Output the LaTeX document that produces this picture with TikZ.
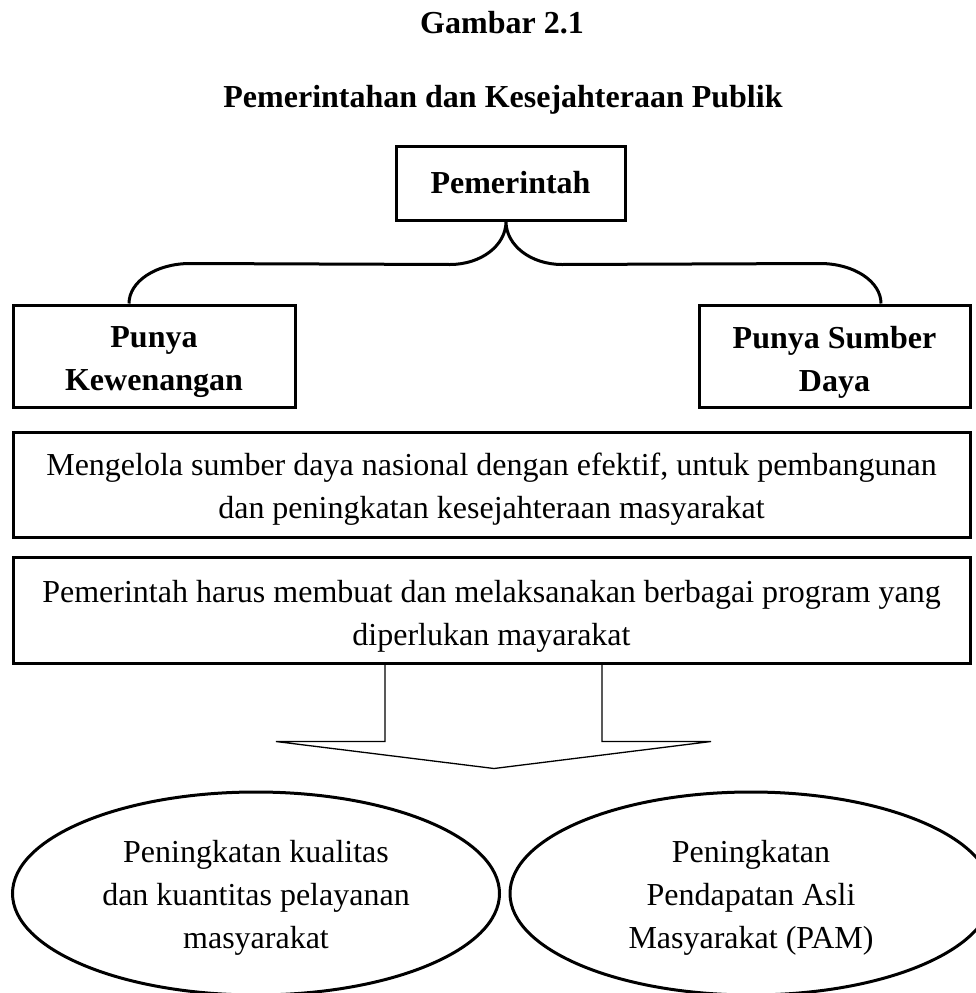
\documentclass[tikz,border=0pt]{standalone}
\usepackage{fontspec}
\setmainfont{Liberation Serif}
\usetikzlibrary{shapes.geometric,calc}
\begin{document}
\begin{tikzpicture}[x=1pt,y=-1pt,
  every node/.style={inner sep=0pt, align=center, font=\fontsize{32}{43}\selectfont},
  box/.style={draw, line width=3pt},
  btxt/.style={font=\fontsize{32}{43}\selectfont\bfseries},
  oval/.style={draw, ellipse, line width=3pt},
  ttl/.style={font=\fontsize{32}{43}\selectfont\bfseries, anchor=base},
  bracket/.style={line width=3pt},
  blockarrow/.style={line width=1.3pt, line join=miter}]
\useasboundingbox (0,0) rectangle (976,993);
\clip (0,0) rectangle (976,993);
\fill[white] (0,0) rectangle (976,993);

\node[ttl] (t1) at (502,33) {Gambar 2.1};
\node[ttl] (t2) at (503,107) {Pemerintahan dan Kesejahteraan Publik};

\node[box, minimum width=229pt, minimum height=74pt] (pem) at (510.5,183) {};
\node[btxt] (pemt) at ($(pem)+(0,0)$) {Pemerintah};
\node[box, minimum width=282pt, minimum height=102pt] (kew) at (154,356) {};
\node[btxt] (kewt) at ($(kew)+(0,6)$) {Punya\\Kewenangan};
\node[box, minimum width=271pt, minimum height=102pt] (sum) at (834.5,356) {};
\node[btxt] (sumt) at ($(sum)+(0,6)$) {Punya Sumber\\Daya};

\node[box, minimum width=957pt, minimum height=105pt] (kel) at (491.5,484.5) {};
\node (kelt) at ($(kel)+(0,5)$)
  {Mengelola sumber daya nasional dengan efektif, untuk pembangunan\\dan peningkatan kesejahteraan masyarakat};
\node[box, minimum width=957pt, minimum height=106pt] (prog) at (491.5,610) {};
\node (progt) at ($(prog)+(0,6)$)
  {Pemerintah harus membuat dan melaksanakan berbagai program yang\\diperlukan mayarakat};

\node[oval, minimum width=487pt, minimum height=203pt] (e1) at (256,893.5) {};
\node (e1t) at ($(e1)+(0,4)$) {Peningkatan kualitas\\dan kuantitas pelayanan\\masyarakat};
\node[oval, minimum width=482pt, minimum height=203pt] (e2) at (751,893.5) {};
\node (e2t) at ($(e2)+(0,4)$) {Peningkatan\\Pendapatan Asli\\Masyarakat (PAM)};

% brace from Pemerintah to the two boxes
\path (kew.north) ++(-25,0) coordinate (bl);
\path (sum.north) ++(46.5,0) coordinate (br);
\path (pem.south) ++(-4.5,0) coordinate (tip);
\draw[bracket] (bl) .. controls ($(bl)+(0,-22)$) and ($(bl)+(27,-40)$) .. ($(bl)+(61,-40)$)
  -- ($(tip)+(-56,43)$) .. controls ($(tip)+(-25,43)$) and ($(tip)+(0,24)$) .. (tip)
  .. controls ($(tip)+(0,24)$) and ($(tip)+(25,43)$) .. ($(tip)+(56,43)$)
  -- ($(br)+(-61,-40)$) .. controls ($(br)+(-27,-40)$) and ($(br)+(0,-22)$) .. (br);

% block arrow below the program box
\path (prog.south) ++(-106.5,0) coordinate (sl);
\path (prog.south) ++(110.5,0) coordinate (sr);
\draw[blockarrow] (sl) -- ++(0,77) -- ++(-109,0) -- ($(prog.south)+(2.5,104)$)
  -- ($(sr)+(109,77)$) -- ($(sr)+(0,77)$) -- (sr);
\end{tikzpicture}
\end{document}
